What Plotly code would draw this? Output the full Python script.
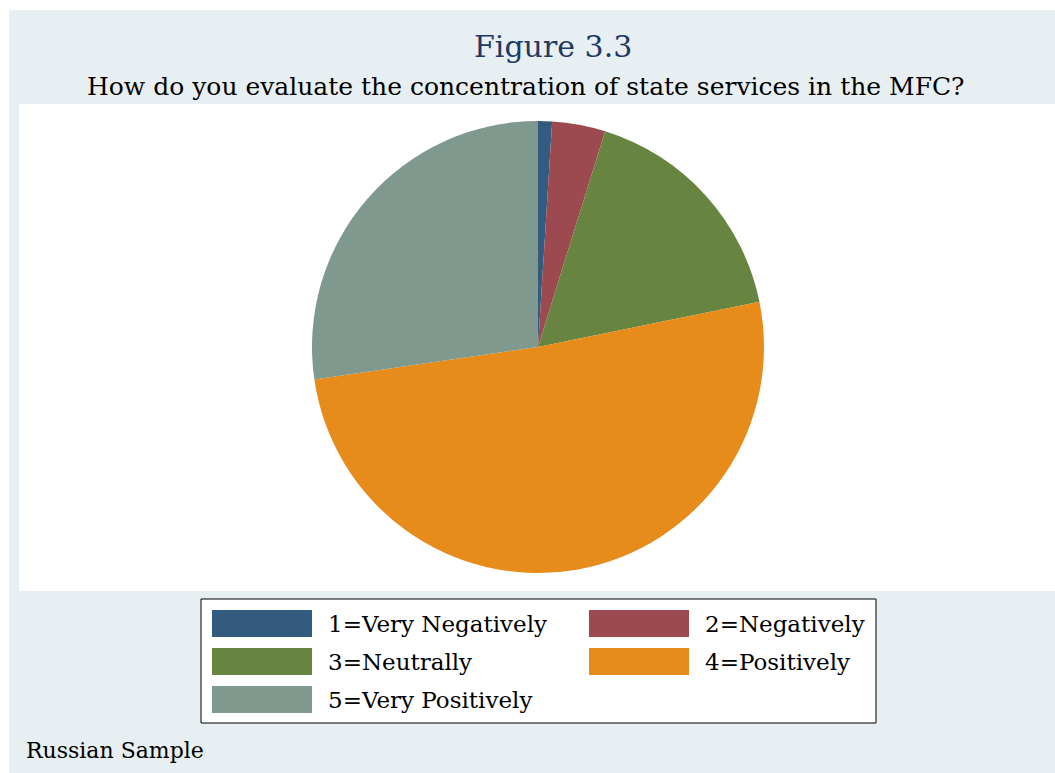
import plotly.graph_objects as go

# Survey responses (percent of respondents)
categories = ["1=Very Negatively", "2=Negatively", "3=Neutrally",
              "4=Positively", "5=Very Positively"]
shares = [1.0, 3.8, 17.0, 50.9, 27.3]
colors = ["#335B80", "#9C4A50", "#678541", "#E78B1A", "#7F998F"]

W, H = 1055, 773
FONT = "DejaVu Serif"


def px(x):
    return x / W


def py(y):
    return 1 - y / H


# Pie geometry (pixels)
cx, cy, r = 538, 347, 226

fig = go.Figure(
    go.Pie(
        labels=categories,
        values=shares,
        sort=False,
        direction="clockwise",
        rotation=0,
        marker=dict(colors=colors, line=dict(width=0)),
        textinfo="none",
        showlegend=False,
        domain=dict(x=[px(cx - r), px(cx + r)], y=[py(cy + r), py(cy - r)]),
    )
)

shapes = [
    # outer graph region
    dict(type="rect", xref="paper", yref="paper", layer="below",
         x0=px(9), x1=px(W), y0=py(H), y1=py(10),
         fillcolor="#E8EFF2", line=dict(width=0)),
    # plot region
    dict(type="rect", xref="paper", yref="paper", layer="below",
         x0=px(19), x1=px(W), y0=py(591), y1=py(104),
         fillcolor="white", line=dict(width=0)),
    # legend box
    dict(type="rect", xref="paper", yref="paper",
         x0=px(201), x1=px(876), y0=py(723), y1=py(599),
         fillcolor="white", line=dict(color="black", width=1)),
]

annotations = [
    dict(text="Figure 3.3", x=px(553), y=py(46), xref="paper", yref="paper",
         showarrow=False, xanchor="center", yanchor="middle",
         font=dict(family=FONT, size=30, color="#1E3A64")),
    dict(text="How do you evaluate the concentration of state services in the MFC?",
         x=px(526), y=py(86), xref="paper", yref="paper",
         showarrow=False, xanchor="center", yanchor="middle",
         font=dict(family=FONT, size=25, color="black")),
    dict(text="Russian Sample", x=px(24), y=py(750), xref="paper", yref="paper",
         showarrow=False, xanchor="left", yanchor="middle",
         font=dict(family=FONT, size=22, color="black")),
]

# Legend: two columns, filled row by row
col_x = [212, 589]
row_y = [610, 648, 686]
sw_w, sw_h = 100, 27
for i, (lab, col) in enumerate(zip(categories, colors)):
    r_i, c_i = divmod(i, 2)
    x0 = col_x[c_i]
    y0 = row_y[r_i]
    shapes.append(dict(type="rect", xref="paper", yref="paper",
                       x0=px(x0), x1=px(x0 + sw_w), y0=py(y0 + sw_h), y1=py(y0),
                       fillcolor=col, line=dict(width=0)))
    annotations.append(dict(text=lab, x=px(x0 + sw_w + 14), y=py(y0 + sw_h / 2),
                            xref="paper", yref="paper", showarrow=False,
                            xanchor="left", yanchor="middle",
                            font=dict(family=FONT, size=23, color="black")))

fig.update_layout(
    width=W, height=H,
    margin=dict(l=0, r=0, t=0, b=0),
    paper_bgcolor="white",
    plot_bgcolor="white",
    shapes=shapes,
    annotations=annotations,
)

fig.write_html("out.html")
